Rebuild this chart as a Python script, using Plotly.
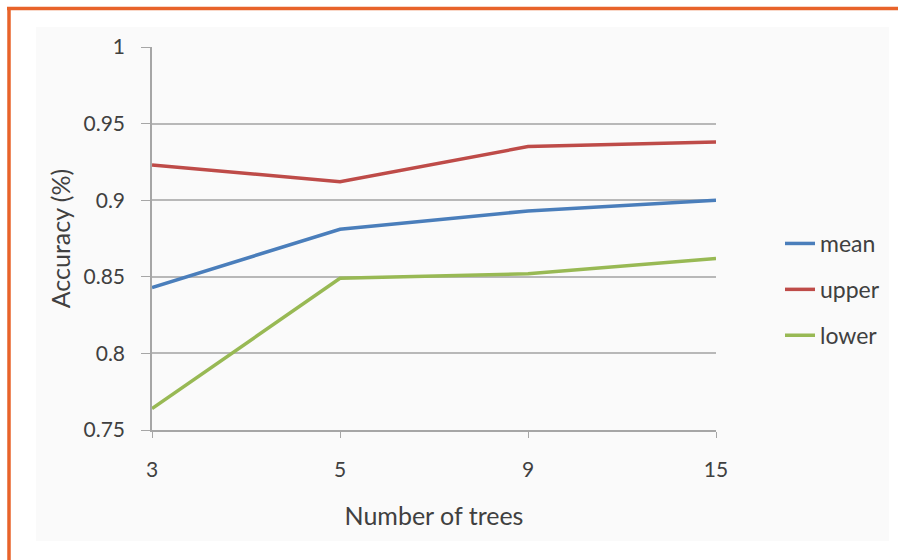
import plotly.graph_objects as go

trees = ["3", "5", "9", "15"]
mean = [0.843, 0.881, 0.893, 0.900]
upper = [0.923, 0.912, 0.935, 0.938]
lower = [0.764, 0.849, 0.852, 0.862]
y_ticks = [0.75, 0.8, 0.85, 0.9, 0.95, 1.0]
y_tick_labels = ["0.75", "0.8", "0.85", "0.9", "0.95", "1"]

series = [("mean", mean, "#4a7ebb"), ("upper", upper, "#be4b48"), ("lower", lower, "#98b954")]

fig = go.Figure()
for name, vals, col in series:
    fig.add_trace(go.Scatter(x=trees, y=vals, mode="lines", name=name,
                             legendgroup=name,
                             line=dict(color=col, width=3.5)))

W, H = 898, 560
L, R, T, B = 152, 182, 47, 130
pw, ph = W - L - R, H - T - B

def px(x):
    return (x - L) / pw

def py(y):
    return (H - B - y) / ph

shapes = [
    dict(type="rect", xref="paper", yref="paper", x0=px(36), x1=px(889), y0=py(541), y1=py(27),
         fillcolor="#fafafa", line=dict(width=0), layer="below"),
    dict(type="line", xref="paper", yref="paper", x0=px(7), x1=px(898), y0=py(8.5), y1=py(8.5),
         line=dict(color="#e8632a", width=3.5)),
    dict(type="line", xref="paper", yref="paper", x0=px(9), x1=px(9), y0=py(7), y1=py(560),
         line=dict(color="#e8632a", width=3.5)),
]

font = "Lato, 'Open Sans', sans-serif"
fig.update_layout(
    width=W, height=H,
    margin=dict(l=L, r=R, t=T, b=B, pad=0),
    paper_bgcolor="white",
    plot_bgcolor="#fafafa",
    font=dict(family=font, size=21, color="#404040"),
    shapes=shapes,
    showlegend=True,
    legend=dict(x=px(780), y=py(222), xanchor="left", yanchor="top",
                bgcolor="rgba(0,0,0,0)", font=dict(size=23, color="#404040"),
                tracegroupgap=13, traceorder="grouped"),
    xaxis=dict(type="category", range=[0, 3], showgrid=False,
               showline=True, linecolor="#a6a6a6", linewidth=1.5,
               ticks="outside", ticklen=6, tickcolor="#a6a6a6",
               ticklabelstandoff=14,
               title=dict(text="Number of trees", font=dict(size=25), standoff=28),
               tickfont=dict(size=21), zeroline=False),
    yaxis=dict(range=[0.75, 1.0], tickvals=y_ticks, ticktext=y_tick_labels,
               showgrid=True, gridcolor="#b8b8b8", gridwidth=1.5,
               showline=True, linecolor="#a6a6a6", linewidth=1.5,
               ticks="outside", ticklen=9, tickcolor="#a6a6a6",
               ticklabelstandoff=12,
               title=dict(text="Accuracy (%)", font=dict(size=25), standoff=6),
               tickfont=dict(size=21), zeroline=False),
)

fig.write_html("out.html", config={"displayModeBar": False},
               post_script="document.body.style.margin='0';")
